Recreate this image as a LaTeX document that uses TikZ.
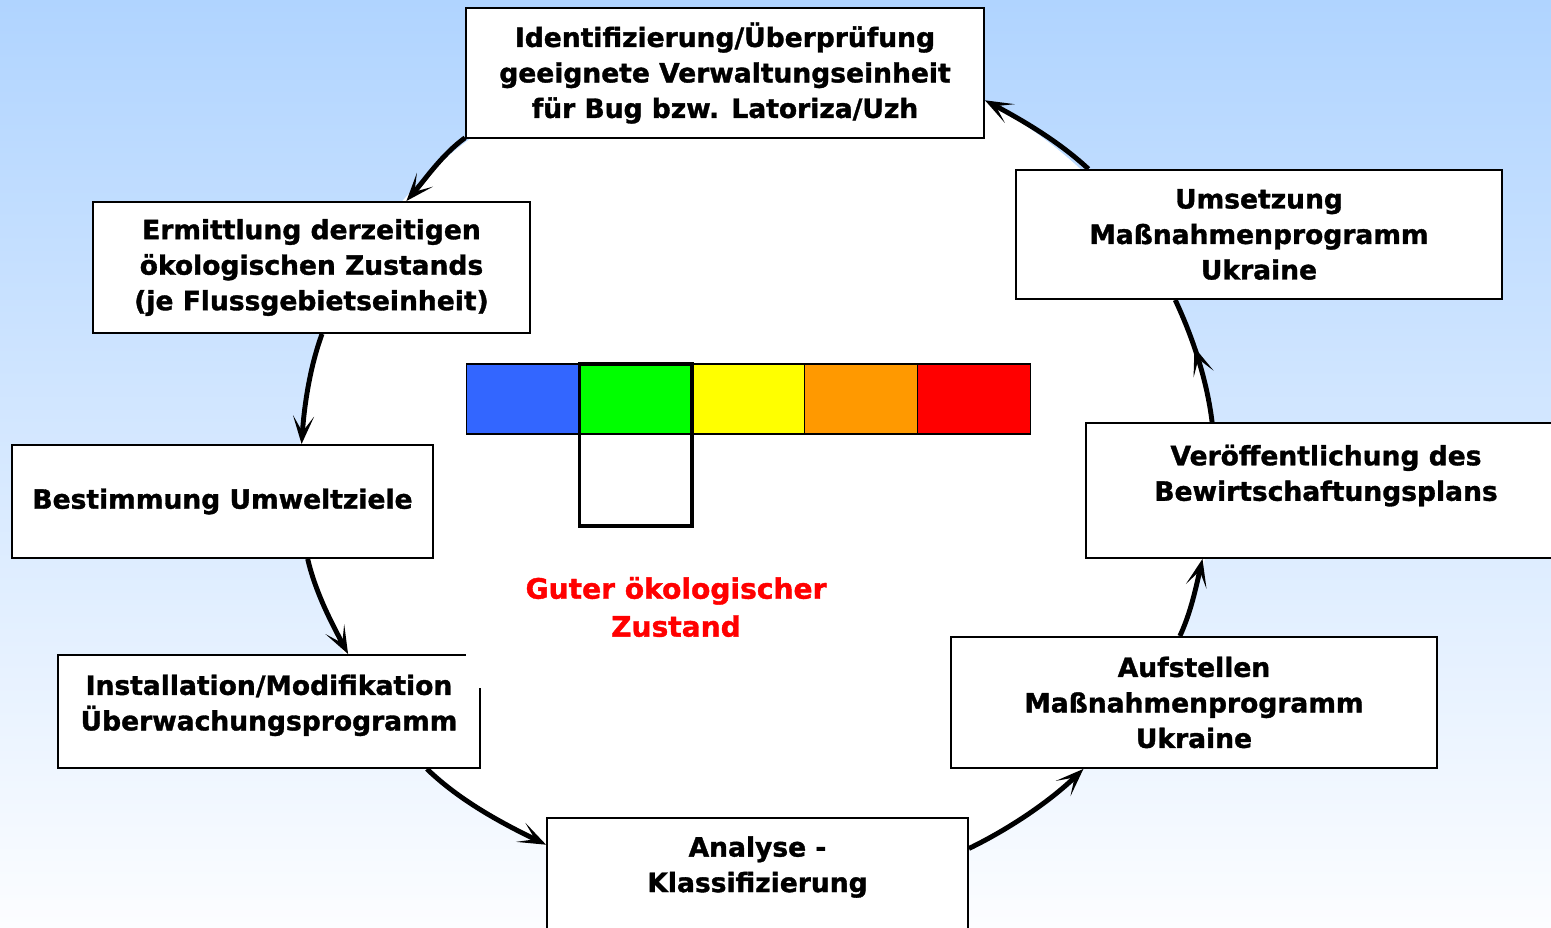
\documentclass[tikz,border=0pt]{standalone}
\usepackage{fontspec}
\setmainfont{DejaVu Sans}[BoldFeatures={FakeBold=1.3}]
\usepackage{tikz}
\usetikzlibrary{arrows.meta,positioning,decorations.markings}
\definecolor{skytop}{RGB}{176,212,255}
\definecolor{skybottom}{RGB}{252,253,255}
\definecolor{stblue}{RGB}{51,102,255}
\definecolor{stgreen}{RGB}{0,255,0}
\definecolor{styellow}{RGB}{255,255,0}
\definecolor{storange}{RGB}{255,153,0}
\definecolor{stred}{RGB}{255,0,0}

\begin{document}
\begin{tikzpicture}[
    x=0.02cm, y=0.02cm, % 1 unit = 1 pixel
    tip/.tip={Stealth[length=16pt,width=12pt,inset=9pt]},
    box/.style={draw,fill=white,line width=1.1pt,align=center,inner sep=0pt,font=\fontsize{15.1pt}{20.2pt}\selectfont\bfseries},
    flow/.style={-tip,line width=2.8pt,looseness=0.85},
    midflow/.style={line width=2.8pt,looseness=0.85,postaction={decorate,decoration={markings,mark=at position 0.6 with {\arrow{tip}}}}},
    cell/.style={draw,line width=0.8pt,minimum width=2.256cm,minimum height=1.4cm,inner sep=0pt,outer sep=0pt},
    pickbox/.style={draw,line width=1.9pt,minimum width=2.256cm,minimum height=3.24cm,inner sep=0pt,outer sep=0pt},
    goal/.style={align=center,text=stred,font=\fontsize{16pt}{21.6pt}\selectfont\bfseries}
]
% Background
\useasboundingbox (0,0) rectangle (1551,928);
\shade[top color=skytop,bottom color=skybottom] (0,0) rectangle (1551,928);
\fill[white] (757,458) ellipse [x radius=458,y radius=425];

% Steps of the cycle
\node[box,minimum width=10.36cm,minimum height=2.6cm] (ident) at (725,855) {Identifizierung/Überprüfung\\geeignete Verwaltungseinheit\\für Bug bzw. Latoriza/Uzh};
\node[box,minimum width=8.74cm,minimum height=2.62cm] (ermitt) at (311.5,660.5) {Ermittlung derzeitigen\\ökologischen Zustands\\(je Flussgebietseinheit)};
\node[box,minimum width=8.42cm,minimum height=2.26cm] (bestimm) at (222.5,426.5) {Bestimmung Umweltziele};
\node[box,minimum width=8.44cm,minimum height=2.26cm] (install) at (269,216.5) {Installation/Modifikation\\Überwachungsprogramm\\[-10pt]\mbox{}};
\node[box,minimum width=8.42cm,minimum height=2.56cm] (analyse) at (757.5,46) {Analyse -\\Klassifizierung\\\mbox{}};
\node[box,minimum width=9.72cm,minimum height=2.62cm] (aufst) at (1194,225.5) {Aufstellen\\Maßnahmenprogramm\\Ukraine};
\node[box,minimum width=9.6cm,minimum height=2.7cm] (veroeff) at (1326,437.5) {Veröffentlichung des\\Bewirtschaftungsplans\\\mbox{}};
\node[box,minimum width=9.72cm,minimum height=2.58cm] (umsetz) at (1259,693.5) {Umsetzung\\Maßnahmenprogramm\\Ukraine};
\fill[white] (466,277) rectangle (484,240);

% Cycle arrows
\foreach \from/\to/\o/\i in {ident.194.6/ermitt.35.9/216/49,
    ermitt.279.1/bestimm.36.1/250/86,
    bestimm.326.5/install.36.6/283/118,
    install.340.4/analyse.170.8/316/154,
    analyse.9.2/aufst.211.7/26/224,
    aufst.102.1/veroeff.209.8/65/257,
    umsetz.159.7/ident.354.1/137/332} {
    \draw[flow] (\from) to[out=\o,in=\i] (\to);
}
\draw[midflow] (veroeff.149.1) to[out=97,in=295] (umsetz.218.5);

% Colour scale
\node[cell,fill=stblue] (cblue) at (522.8,529) {};
\node[cell,fill=stgreen,right=0pt of cblue] (cgreen) {};
\node[cell,fill=styellow,right=0pt of cgreen] (cyellow) {};
\node[cell,fill=storange,right=0pt of cyellow] (corange) {};
\node[cell,fill=stred,right=0pt of corange] (cred) {};
\node[pickbox,anchor=north] (pick) at (cgreen.north) {};

\node[goal] (goal) at (676,321) {Guter ökologischer\\Zustand};

\end{tikzpicture}
\end{document}
